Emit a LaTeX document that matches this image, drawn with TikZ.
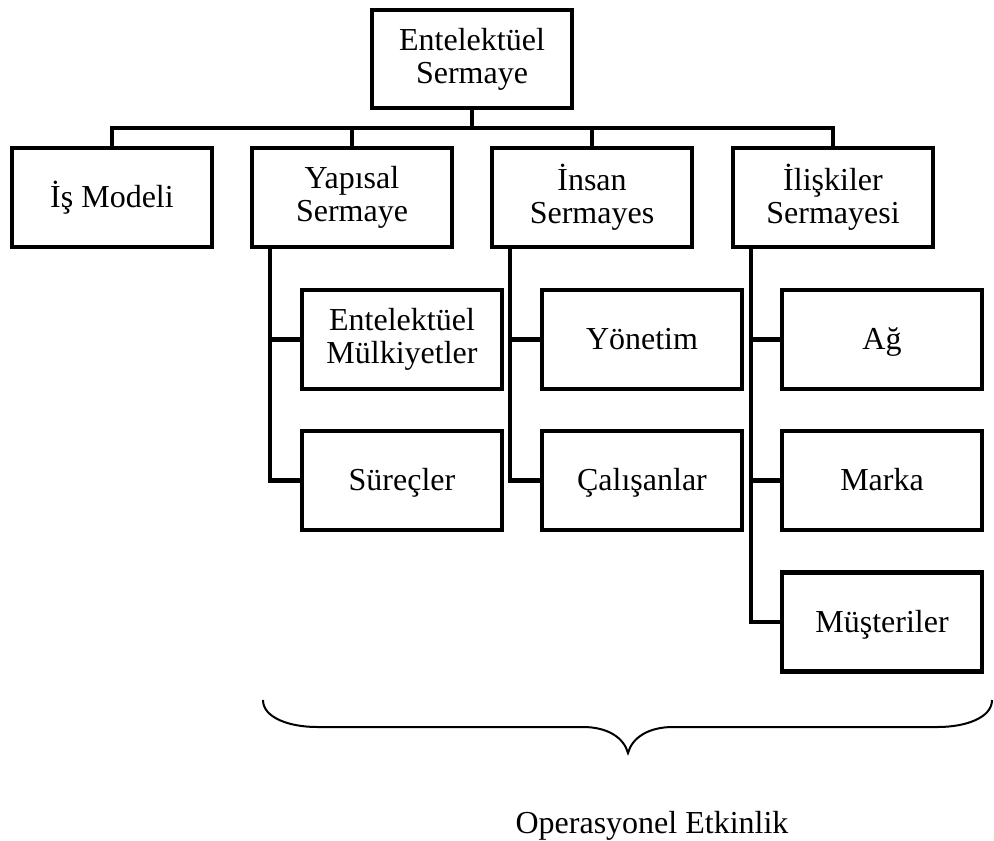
\documentclass[tikz,border=0pt]{standalone}
\usepackage{fontspec}
\setmainfont{Liberation Serif}
\usetikzlibrary{calc}
\begin{document}
\begin{tikzpicture}[x=1pt,y=-1pt,
  box/.style={draw,line width=4.5pt,minimum width=200pt,minimum height=99pt,
    inner sep=0pt,align=center,font=\fontsize{32}{33}\selectfont},
  onebox/.style={box,text height=21pt,text depth=1pt},
  link/.style={line width=4.5pt},
  brace/.style={line width=2pt}]
\useasboundingbox (0,0) rectangle (994,841);

% root
\node[box,minimum height=98pt] (root) at (472,59) {Entelektüel\\Sermaye};

% first level
\node[onebox] (is)  at (112,197.5) {İş Modeli};
\node[box] (yap) at (352,197.5) {Yapısal\\Sermaye};
\node[box] (ins) at (592,197.5) {İnsan\\Sermayes};
\node[box] (ili) at (833,197.5) {İlişkiler\\Sermayesi};

% second level
\node[box] (mulk) at (402,339.5) {Entelektüel\\Mülkiyetler};
\node[onebox] (sur)  at (402,480.5) {Süreçler};
\node[onebox] (yon)  at (642,339.5) {Yönetim};
\node[onebox] (cal)  at (642,480.5) {Çalışanlar};
\node[onebox] (ag)   at (882,339.5) {Ağ};
\node[onebox] (mar)  at (882,480.5) {Marka};
\node[onebox] (mus)  at (882,622)   {Müşteriler};

% root to first level
\coordinate (bus) at (472,128);
\draw[link] (root.south) -- (bus);
\draw[link] (is.north) |- (bus) -| (ili.north);
\draw[link] (yap.north) -- (yap.north |- bus);
\draw[link] (ins.north) -- (ins.north |- bus);

% first level to second level
\coordinate (yapt) at ($(yap.south west)+(20,0)$);
\coordinate (inst) at ($(ins.south west)+(20,0)$);
\coordinate (ilit) at ($(ili.south west)+(20,0)$);
\draw[link] (yapt) |- (sur.west);
\draw[link] (yapt |- mulk.west) -- (mulk.west);
\draw[link] (inst) |- (cal.west);
\draw[link] (inst |- yon.west) -- (yon.west);
\draw[link] (ilit) |- (mus.west);
\draw[link] (ilit |- ag.west) -- (ag.west);
\draw[link] (ilit |- mar.west) -- (mar.west);

% brace
\coordinate (bl) at (263,700);
\coordinate (br) at (992,700);
\coordinate (tip) at (628,753);
\draw[brace] (bl) .. controls (263,718) and (290,727) .. (317,727)
  -- (583,727) .. controls (608,727) and (624,738) .. (tip)
  .. controls (632,738) and (648,727) .. (673,727)
  -- (938,727) .. controls (965,727) and (992,718) .. (br);

\node[font=\fontsize{32}{33}\selectfont,anchor=base,inner sep=0pt] (op) at (652,833) {Operasyonel Etkinlik};
\end{tikzpicture}
\end{document}
